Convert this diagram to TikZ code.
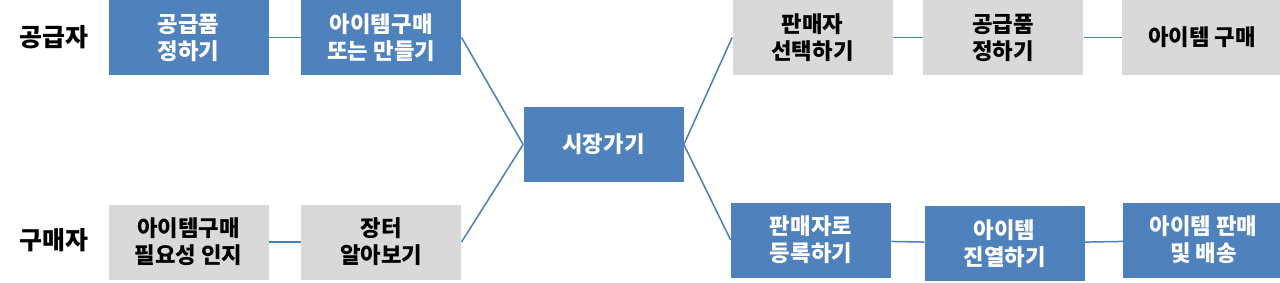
\documentclass[tikz,border=0pt]{standalone}
\usepackage{fontspec}
\setmainfont{Noto Sans CJK KR}
\usetikzlibrary{positioning}

\definecolor{boxblue}{HTML}{4F81BD}
\definecolor{boxgray}{HTML}{D9D9D9}
\definecolor{linkblue}{HTML}{4A7EBB}

\begin{document}
\begin{tikzpicture}[
    box/.style={rectangle, minimum width=3.2cm, minimum height=1.5cm, align=center, inner sep=0pt,
        font=\fontsize{12.7pt}{15.3pt}\selectfont\bfseries},
    bluebox/.style={box, fill=boxblue, text=white},
    graybox/.style={box, fill=boxgray, text=black},
    role/.style={font=\fontsize{14.2pt}{17pt}\selectfont\bfseries},
    link/.style={draw=linkblue, line width=0.85pt}
]
\useasboundingbox (0,0) rectangle (25.6,-5.66);

\node[role] (supplier) at (1.08,-0.74) {공급자};
\node[role] (buyer) at (1.08,-4.8) {구매자};

\node[bluebox] (sup1) at (3.77,-0.75) {공급품\\정하기};
\node[bluebox, right=0.64cm of sup1] (sup2) {아이템구매\\또는 만들기};
\node[graybox] (buy1) at (3.77,-4.84) {아이템구매\\필요성 인지};
\node[graybox, right=0.64cm of buy1] (buy2) {장터\\알아보기};

\node[bluebox] (market) at (12.07,-2.89) {시장가기};

\node[graybox] (sel1) at (16.25,-0.75) {판매자\\선택하기};
\node[graybox, right=0.6cm of sel1] (sel2) {공급품\\정하기};
\node[graybox, right=0.76cm of sel2] (sel3) {아이템 구매};
\node[bluebox] (reg1) at (16.22,-4.8) {판매자로\\등록하기};
\node[bluebox, right=0.66cm of reg1, yshift=-2pt] (reg2) {아이템\\진열하기};
\node[bluebox, right=0.76cm of reg2, yshift=2pt] (reg3) {아이템 판매\\및 배송};

\draw[link] (sup1) -- (sup2);
\draw[link] (buy1) -- (buy2);
\draw[link] (sup2.east) -- (market.west);
\draw[link] (buy2.east) -- (market.west);
\draw[link] (market.east) -- (sel1.west);
\draw[link] (market.east) -- (reg1.west);
\draw[link] (sel1) -- (sel2);
\draw[link] (sel2) -- (sel3);
\draw[link] (reg1) -- (reg2);
\draw[link] (reg2) -- (reg3);

\end{tikzpicture}
\end{document}
